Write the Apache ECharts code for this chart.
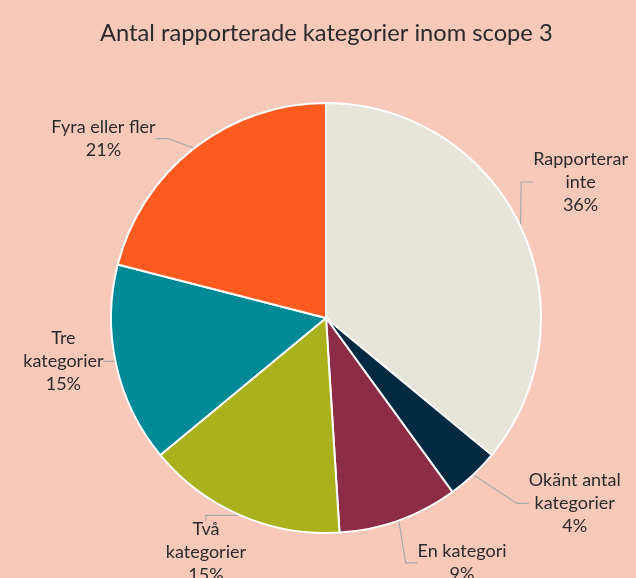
<!DOCTYPE html>
<html>
<head>
<meta charset="utf-8">
<script src="https://cdn.jsdelivr.net/npm/echarts@6/dist/echarts.min.js"></script>
<style>
  html, body { margin: 0; padding: 0; background: #F8C9BA; }
  #chart { width: 636px; height: 578px; }
</style>
</head>
<body>
<div id="chart"></div>
<script>
// ================* SCOPE 3 *

const categories = ['Rapporterar\ninte', 'Okänt antal\nkategorier', 'En kategori', 'Två\nkategorier', 'Tre\nkategorier', 'Fyra eller fler'];
const values = [36, 4, 9, 15, 15, 21];
const colors = ['#E7E5DA', '#002A42', '#8C2C46', '#A9B11C', '#008A97', '#FF5A1F'];

var chart = echarts.init(document.getElementById('chart'));

let pieData = [];
for (let i = 0; i < categories.length; i++) {
    pieData.push({
        name: categories[i],
        value: values[i],
        itemStyle: { color: colors[i] }
    });
}

// nudge labels to where the original sits them
var labelShift = [[2, -41], [28, 16], [-3, 21], [28, 22], [18, -9], [-13, -1]];

option = {
    backgroundColor: '#F8C9BA',
    animation: false,
    title: {
        left: 95,
        top: 16,
        text: 'Antal rapporterade kategorier inom scope 3',
        textStyle: {
            fontFamily: 'Lato',
            fontSize: 23.7,
            fontWeight: 'normal',
            color: '#2b2b2b'
        }
    },
    series: [{
        type: 'pie',
        center: [326, 318],
        radius: 215,
        startAngle: 90,
        clockwise: true,
        data: pieData,
        itemStyle: {
            borderColor: '#ffffff',
            borderWidth: 2
        },
        label: {
            show: true,
            position: 'outside',
            overflow: 'none',
            formatter: function (p) {
                return p.name.split('\n').concat([p.percent + '%']).map(function (s) {
                    return '{a|' + s + '}';
                }).join('\n');
            },
            rich: {
                a: {
                    fontFamily: 'Lato',
                    fontSize: 18,
                    lineHeight: 23,
                    color: '#2b2b2b',
                    align: 'center'
                }
            }
        },
        labelLine: {
            show: true,
            length: 14,
            length2: 12,
            lineStyle: { color: '#a7a9ab', width: 1.2 }
        },
        labelLayout: function (params) {
            var s = labelShift[params.dataIndex];
            var r = params.labelRect;
            return {
                x: r.x + s[0],
                y: r.y + s[1],
                align: 'left',
                verticalAlign: 'top'
            };
        }
    }]
};
chart.setOption(option);
</script>
</body>
</html>
